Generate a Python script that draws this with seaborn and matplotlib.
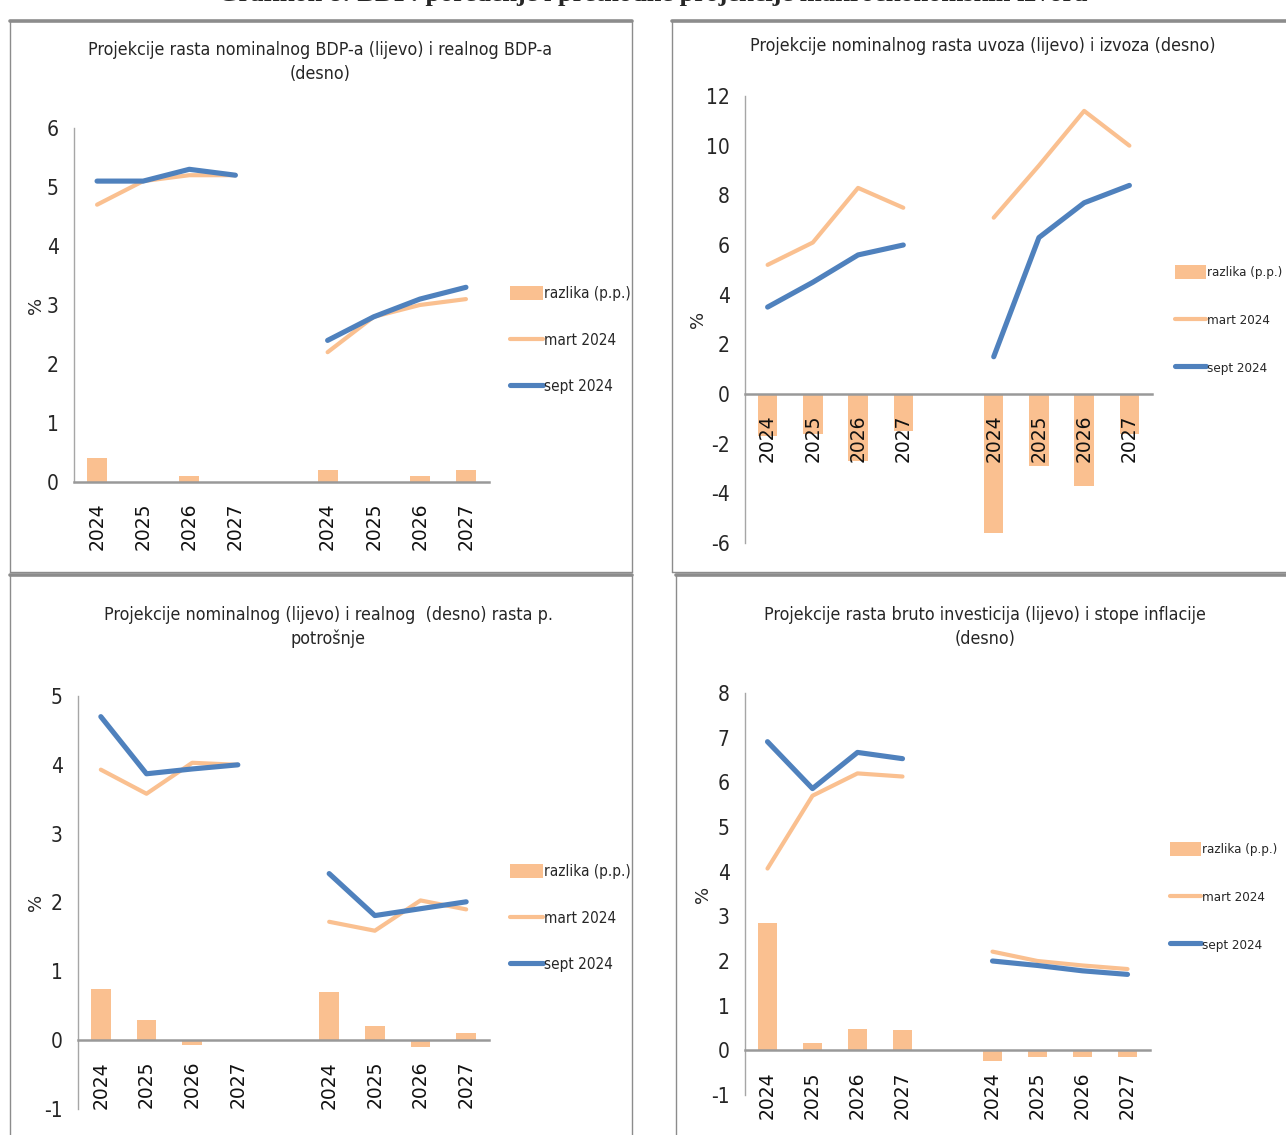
import matplotlib
matplotlib.use("Agg")
import matplotlib.pyplot as plt
from matplotlib import font_manager
from matplotlib.font_manager import FontProperties
from matplotlib.textpath import TextPath
from matplotlib.lines import Line2D
import seaborn as sns
import pandas as pd

# ---------------- data ----------------
years = ["2024", "2025", "2026", "2027"]
pos_left = [0, 1, 2, 3]
pos_right = [5, 6, 7, 8]

# Panel 1: nominal GDP (left), real GDP (right)
p1_mart_left = [4.7, 5.1, 5.2, 5.2]
p1_sept_left = [5.1, 5.1, 5.3, 5.2]
p1_diff_left = [0.4, 0.0, 0.1, 0.0]
p1_mart_right = [2.2, 2.8, 3.0, 3.1]
p1_sept_right = [2.4, 2.8, 3.1, 3.3]
p1_diff_right = [0.2, 0.0, 0.1, 0.2]

# Panel 2: imports (left), exports (right)
p2_mart_left = [5.2, 6.1, 8.3, 7.5]
p2_sept_left = [3.5, 4.5, 5.6, 6.0]
p2_diff_left = [-1.7, -1.6, -2.7, -1.5]
p2_mart_right = [7.1, 9.2, 11.4, 10.0]
p2_sept_right = [1.5, 6.3, 7.7, 8.4]
p2_diff_right = [-5.6, -2.9, -3.7, -1.6]

# Panel 3: nominal (left), real (right) private consumption
p3_mart_left = [3.93, 3.58, 4.03, 4.0]
p3_sept_left = [4.70, 3.87, 3.94, 4.0]
p3_diff_left = [0.75, 0.3, -0.07, 0.0]
p3_mart_right = [1.72, 1.59, 2.03, 1.90]
p3_sept_right = [2.42, 1.81, 1.91, 2.01]
p3_diff_right = [0.7, 0.2, -0.1, 0.11]

# Panel 4: gross investment (left), inflation (right)
p4_mart_left = [4.07, 5.70, 6.20, 6.13]
p4_sept_left = [6.91, 5.86, 6.67, 6.53]
p4_diff_left = [2.85, 0.17, 0.47, 0.45]
p4_mart_right = [2.21, 2.0, 1.9, 1.82]
p4_sept_right = [2.0, 1.9, 1.78, 1.70]
p4_diff_right = [-0.23, -0.14, -0.14, -0.14]

titles = [
    "Projekcije rasta nominalnog BDP-a (lijevo) i realnog BDP-a\n(desno)",
    "Projekcije nominalnog rasta uvoza (lijevo) i izvoza (desno)",
    "Projekcije nominalnog (lijevo) i realnog  (desno) rasta p.\npotrošnje",
    "Projekcije rasta bruto investicija (lijevo) i stope inflacije\n(desno)",
]
legend_labels = ["razlika (p.p.)", "mart 2024", "sept 2024"]
fig_title = "Grafikon 8: BDP: poređenje i prethodne projekcije makroekonomskih izvora"

# ---------------- fonts ----------------
sns.set_style("white")
plt.rcParams["font.family"] = ["DejaVu Sans"]

narrow_path = None
cond_path = None
for f in font_manager.fontManager.ttflist:
    fn = f.fname.replace("\\", "/").split("/")[-1]
    if fn.lower() in ("liberationsansnarrow-regular.ttf", "liberationsansnarrow.ttf"):
        narrow_path = f.fname
    if fn == "DejaVuSansCondensed.ttf":
        cond_path = f.fname
if narrow_path:
    NARROW_PATH = narrow_path
elif cond_path:
    NARROW_PATH = cond_path
else:
    NARROW_PATH = font_manager.findfont(FontProperties(family="Liberation Sans"))


def nfp(size):
    return FontProperties(fname=NARROW_PATH, size=size)


def fit_size(text, target_px):
    tp = TextPath((0, 0), text, size=10, prop=FontProperties(fname=NARROW_PATH))
    w_px = tp.get_extents().width * 100 / 72
    return 10 * target_px / w_px


TITLE_SIZE = min(fit_size("Projekcije rasta nominalnog BDP-a (lijevo) i realnog BDP-a", 460), 16)
LEG_SIZE = min(fit_size("razlika (p.p.)", 84), 15)
LEG_SIZE_R = min(fit_size("razlika (p.p.)", 73), 15)
YT_SIZE = min(fit_size("12", 20), 15.5)

ORANGE = "#FAC090"
BLUE = "#4F81BD"
AXGRAY = "#A6A6A6"
FRAME = "#8C8C8C"

W, H = 1286, 1135
fig = plt.figure(figsize=(W / 100, H / 100), dpi=100)


def px_axes(l, t, r, b):
    return fig.add_axes([l / W, 1 - b / H, (r - l) / W, (b - t) / H])


def fx(x):
    return x / W


def fy(y):
    return 1 - y / H


def frame(l, t, r, b):
    fig.add_artist(Line2D([fx(l), fx(r)], [fy(t), fy(t)], color=FRAME, lw=2.6))
    fig.add_artist(Line2D([fx(l), fx(l)], [fy(t), fy(b)], color=FRAME, lw=1.0))
    fig.add_artist(Line2D([fx(r), fx(r)], [fy(t), fy(b)], color=FRAME, lw=1.0))
    fig.add_artist(Line2D([fx(l), fx(r)], [fy(b), fy(b)], color=FRAME, lw=1.0))


frame(10, 21, 632, 572)
frame(672, 21, 1300, 572)
frame(10, 575, 632, 1150)
frame(676, 575, 1300, 1150)

# figure caption, clipped by the top edge as in the source image
fig.text(0.5 * (205 + 1100) / W, fy(-6), fig_title, ha="center", va="center",
         fontsize=19, fontweight="bold", family=["Liberation Serif", "DejaVu Serif"])

panels = [
    dict(rect=(74, 128, 489, 482), ylim=(0, 6), yticks=range(0, 7),
         mart=(p1_mart_left, p1_mart_right), sept=(p1_sept_left, p1_sept_right),
         diff=(p1_diff_left, p1_diff_right), title=titles[0], tpos=(320, 62),
         leg=(512, 293), ylab_x=-0.07, legsize=LEG_SIZE, hl=33),
    dict(rect=(745, 96, 1152, 543), ylim=(-6, 12), yticks=range(-6, 13, 2),
         mart=(p2_mart_left, p2_mart_right), sept=(p2_sept_left, p2_sept_right),
         diff=(p2_diff_left, p2_diff_right), title=titles[1], tpos=(983, 46),
         leg=(1177, 272), ylab_x=-0.093, legsize=LEG_SIZE_R, hl=31),
    dict(rect=(78, 696, 489, 1109), ylim=(-1, 5), yticks=range(-1, 6),
         mart=(p3_mart_left, p3_mart_right), sept=(p3_sept_left, p3_sept_right),
         diff=(p3_diff_left, p3_diff_right), title=titles[2], tpos=(328, 627),
         leg=(512, 871), ylab_x=-0.08, legsize=LEG_SIZE, hl=33),
    dict(rect=(745, 693, 1150, 1095), ylim=(-1, 8), yticks=range(-1, 9),
         mart=(p4_mart_left, p4_mart_right), sept=(p4_sept_left, p4_sept_right),
         diff=(p4_diff_left, p4_diff_right), title=titles[3], tpos=(985, 627),
         leg=(1172, 849), ylab_x=-0.081, legsize=LEG_SIZE_R, hl=31),
]

for p in panels:
    ax = px_axes(*p["rect"])
    df_bar = pd.DataFrame({"x": pos_left + pos_right,
                           "v": list(p["diff"][0]) + list(p["diff"][1])})
    sns.barplot(data=df_bar, x="x", y="v", native_scale=True, width=0.43,
                color=ORANGE, saturation=1, errorbar=None, ax=ax,
                label=legend_labels[0], zorder=2, linewidth=0)
    for i, (pos, seg) in enumerate(zip((pos_left, pos_right), p["mart"])):
        sns.lineplot(x=pos, y=seg, color=ORANGE, linewidth=3.0, ax=ax,
                     label=legend_labels[1] if i == 0 else None,
                     solid_capstyle="round", zorder=3, legend=False)
    for i, (pos, seg) in enumerate(zip((pos_left, pos_right), p["sept"])):
        sns.lineplot(x=pos, y=seg, color=BLUE, linewidth=3.7, ax=ax,
                     label=legend_labels[2] if i == 0 else None,
                     solid_capstyle="round", zorder=4, legend=False)

    # spines first (moving a spine resets the ticks)
    for s in ("top", "right"):
        ax.spines[s].set_visible(False)
    ax.spines["left"].set_color(AXGRAY)
    ax.spines["left"].set_linewidth(1.0)
    ax.spines["bottom"].set_position(("data", 0))
    ax.spines["bottom"].set_color("#999999")
    ax.spines["bottom"].set_linewidth(1.8)
    ax.set_axisbelow(False)

    ax.set_xlim(-0.5, 8.5)
    ax.set_ylim(*p["ylim"])
    ax.set_yticks(list(p["yticks"]))
    ax.set_yticklabels([str(v) for v in p["yticks"]], fontproperties=nfp(YT_SIZE))
    ax.set_xticks(pos_left + pos_right)
    ax.set_xticklabels(years + years, rotation=90, fontsize=13.5,
                       family="DejaVu Sans", color="#111111")
    ax.tick_params(axis="both", length=0)
    ax.tick_params(axis="y", pad=11)
    ax.tick_params(axis="x", pad=15)
    ax.set_xlabel("")
    ax.set_ylabel("%", fontsize=13, family="DejaVu Sans")
    ax.yaxis.set_label_coords(p["ylab_x"], 0.5)
    ax.patch.set_alpha(0)
    ax.grid(False)

    fig.text(fx(p["tpos"][0]), fy(p["tpos"][1]), p["title"], ha="center",
             va="center", fontproperties=nfp(TITLE_SIZE), linespacing=1.4)

    handles, labels = ax.get_legend_handles_labels()
    order = [labels.index(l) for l in legend_labels]
    lx, ly = p["leg"]
    lpx = p["legsize"] * 100 / 72
    ax.legend([handles[i] for i in order], [labels[i] for i in order],
              loc="upper left", bbox_to_anchor=(fx(lx - 2), fy(ly - 7)),
              bbox_transform=fig.transFigure, frameon=False, borderpad=0,
              borderaxespad=0, handlelength=p["hl"] / lpx, handleheight=16 / lpx,
              handletextpad=0.05, labelspacing=max(49.5 / lpx - 1.2, 0.5),
              prop=nfp(p["legsize"]))

fig.savefig("out.png", dpi=100)
